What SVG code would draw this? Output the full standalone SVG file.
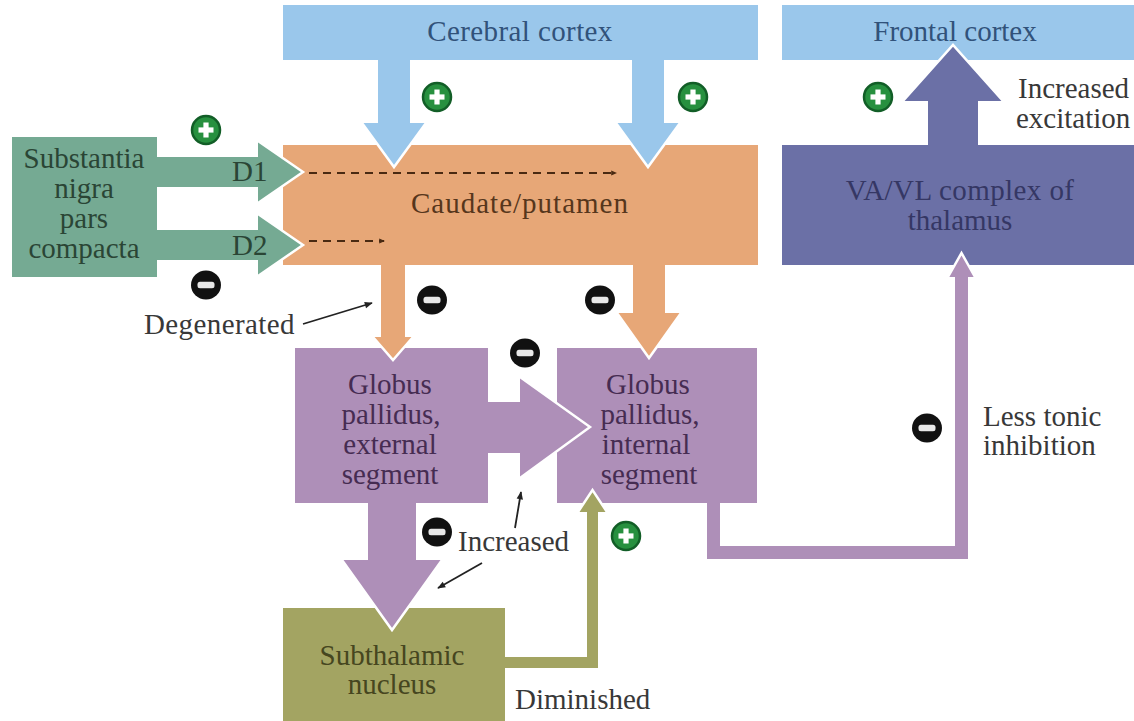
<svg xmlns="http://www.w3.org/2000/svg" width="1134" height="721" viewBox="0 0 1134 721">
<defs>
<style>
text{font-family:"Liberation Serif","Times New Roman",serif;font-size:29px}
.c{text-anchor:middle}
.blue{fill:#9ac7eb}
.orange{fill:#e7a777}
.green{fill:#75aa93}
.thal{fill:#6b70a6}
.purple{fill:#ae8fb8}
.olive{fill:#a3a462}
.tblue{fill:#31527a}
.torange{fill:#56361c}
.tgreen{fill:#2a4535}
.tthal{fill:#353764}
.tpurple{fill:#462c52}
.tolive{fill:#46461f}
.lab{fill:#383838}
.edge{fill:none;stroke:#fff;stroke-width:2.5;stroke-linejoin:miter}
.dash{fill:none;stroke:#4a2a12;stroke-width:2;stroke-dasharray:8 6}
.ptr{fill:none;stroke:#222;stroke-width:1.8}
</style>
<marker id="dh" viewBox="0 0 10 10" refX="8" refY="5" markerWidth="6" markerHeight="6" orient="auto" markerUnits="userSpaceOnUse">
<path d="M0,1 L10,5 L0,9 Z" fill="#4a2a12"/>
</marker>
<marker id="ah" viewBox="0 0 10 10" refX="9" refY="5" markerWidth="10" markerHeight="8" orient="auto" markerUnits="userSpaceOnUse">
<path d="M0,1 L10,5 L0,9 Z" fill="#222"/>
</marker>
<g id="plus">
<circle r="14" fill="#27903f" stroke="#125e27" stroke-width="2.5"/>
<rect x="-2.6" y="-7.5" width="5.2" height="15" fill="#fff"/>
<rect x="-7.5" y="-2.6" width="15" height="5.2" fill="#fff"/>
</g>
<g id="minus">
<ellipse rx="15" ry="14.5" fill="#111"/>
<rect x="-8.5" y="-3.2" width="17" height="6.4" rx="2.5" fill="#e8e8e8"/>
</g>
</defs>
<rect width="1134" height="721" fill="#fff"/>

<g id="cerebral-cortex">
<rect class="blue" x="283" y="5" width="475" height="55"/>
<text class="c tblue" x="520" y="41" letter-spacing="0.4">Cerebral cortex</text>
</g>
<g id="frontal-cortex">
<rect class="blue" x="782" y="5" width="352" height="55"/>
<text class="c tblue" x="955" y="41">Frontal cortex</text>
</g>
<g id="substantia-nigra">
<rect class="green" x="12" y="137" width="145" height="140"/>
<text class="c tgreen" x="84" y="168">Substantia</text>
<text class="c tgreen" x="84" y="198">nigra</text>
<text class="c tgreen" x="84" y="228">pars</text>
<text class="c tgreen" x="84" y="258">compacta</text>
</g>
<g id="caudate-putamen">
<rect class="orange" x="283" y="145" width="475" height="120"/>
<text class="c torange" x="520" y="213" letter-spacing="1">Caudate/putamen</text>
</g>
<g id="thalamus">
<rect class="thal" x="782" y="145" width="352" height="120"/>
<text class="c tthal" x="960" y="200" letter-spacing="0.4">VA/VL complex of</text>
<text class="c tthal" x="960" y="230">thalamus</text>
</g>
<g id="gp-external">
<rect class="purple" x="295" y="348" width="193" height="155"/>
<text class="c tpurple" x="390" y="394">Globus</text>
<text class="c tpurple" x="391" y="424">pallidus,</text>
<text class="c tpurple" x="390" y="454">external</text>
<text class="c tpurple" x="390" y="484">segment</text>
</g>
<g id="gp-internal">
<rect class="purple" x="557" y="348" width="200" height="155"/>
<text class="c tpurple" x="648" y="394">Globus</text>
<text class="c tpurple" x="650" y="424">pallidus,</text>
<text class="c tpurple" x="646" y="454">internal</text>
<text class="c tpurple" x="649" y="484">segment</text>
</g>
<g id="subthalamic">
<rect class="olive" x="283" y="608" width="222" height="113"/>
<text class="c tolive" x="392" y="665">Subthalamic</text>
<text class="c tolive" x="392" y="694">nucleus</text>
</g>

<g id="connectors">
<polygon class="blue" points="378,60 410,60 410,123 426,123 394,167 362,123 378,123"/>
<polyline class="edge" points="362,123 394,167 426,123"/>
<polygon class="blue" points="632,60 664,60 664,123 680,123 648,167 616,123 632,123"/>
<polyline class="edge" points="616,123 648,167 680,123"/>
<polygon class="green" points="157,157 258,157 258,141 303,172 258,203 258,187 157,187"/>
<polyline class="edge" points="258,141 303,172 258,203"/>
<polygon class="green" points="157,230 258,230 258,214 303,245 258,276 258,260 157,260"/>
<polyline class="edge" points="258,214 303,245 258,276"/>
<text class="tgreen" x="232" y="181">D1</text>
<text class="tgreen" x="232" y="255">D2</text>
<line class="dash" x1="309" y1="173" x2="616" y2="173" marker-end="url(#dh)"/>
<line class="dash" x1="309" y1="241" x2="384" y2="241" marker-end="url(#dh)"/>
<polygon class="orange" points="381,265 405,265 405,337 413,337 393,360 373,337 381,337"/>
<polyline class="edge" points="373,337 393,360 413,337"/>
<polygon class="orange" points="633,265 665,265 665,313 681,313 649,358 617,313 633,313"/>
<polyline class="edge" points="617,313 649,358 681,313"/>
<polygon class="purple" points="488,402 520,402 520,377 590,427 520,478 520,453 488,453"/>
<polyline class="edge" points="520,377 590,427 520,478"/>
<polygon class="purple" points="368,503 416,503 416,560 442,560 392,630 342,560 368,560"/>
<polyline class="edge" points="342,560 392,630 442,560"/>
<polygon class="olive" points="505,657 587,657 587,512 578,512 592.5,490 607,512 598,512 598,668 505,668"/>
<polyline class="edge" points="578,512 592.5,490 607,512"/>
<polygon class="purple" points="707,503 720,503 720,546 955,546 955,277 948,277 961.5,253 975,277 968,277 968,559 707,559"/>
<polyline class="edge" points="948,277 961.5,253 975,277"/>
<polygon class="thal" points="928,145 978,145 978,101 1003,101 953,45 903,101 928,101"/>
<polyline class="edge" points="903,101 953,45 1003,101"/>
<line class="ptr" x1="303" y1="324" x2="372" y2="303" marker-end="url(#ah)"/>
<line class="ptr" x1="482" y1="563" x2="438" y2="588" marker-end="url(#ah)"/>
<line class="ptr" x1="515" y1="528" x2="521" y2="492" marker-end="url(#ah)"/>
</g>

<g id="labels">
<text class="lab" x="1018" y="98">Increased</text>
<text class="lab" x="1016" y="128">excitation</text>
<text class="lab" x="144" y="334" letter-spacing="0.4">Degenerated</text>
<text class="lab" x="458" y="551">Increased</text>
<text class="lab" x="983" y="426">Less tonic</text>
<text class="lab" x="983" y="455">inhibition</text>
<text class="lab" x="515" y="709">Diminished</text>
</g>

<g id="signs">
<use href="#plus" x="206" y="130"/>
<use href="#plus" x="437" y="97"/>
<use href="#plus" x="693" y="97"/>
<use href="#plus" x="878" y="97"/>
<use href="#plus" x="626" y="536"/>
<use href="#minus" x="206" y="285"/>
<use href="#minus" x="432" y="300"/>
<use href="#minus" x="600" y="300"/>
<use href="#minus" x="525" y="353"/>
<use href="#minus" x="437" y="532"/>
<use href="#minus" x="927" y="428"/>
</g>
</svg>
